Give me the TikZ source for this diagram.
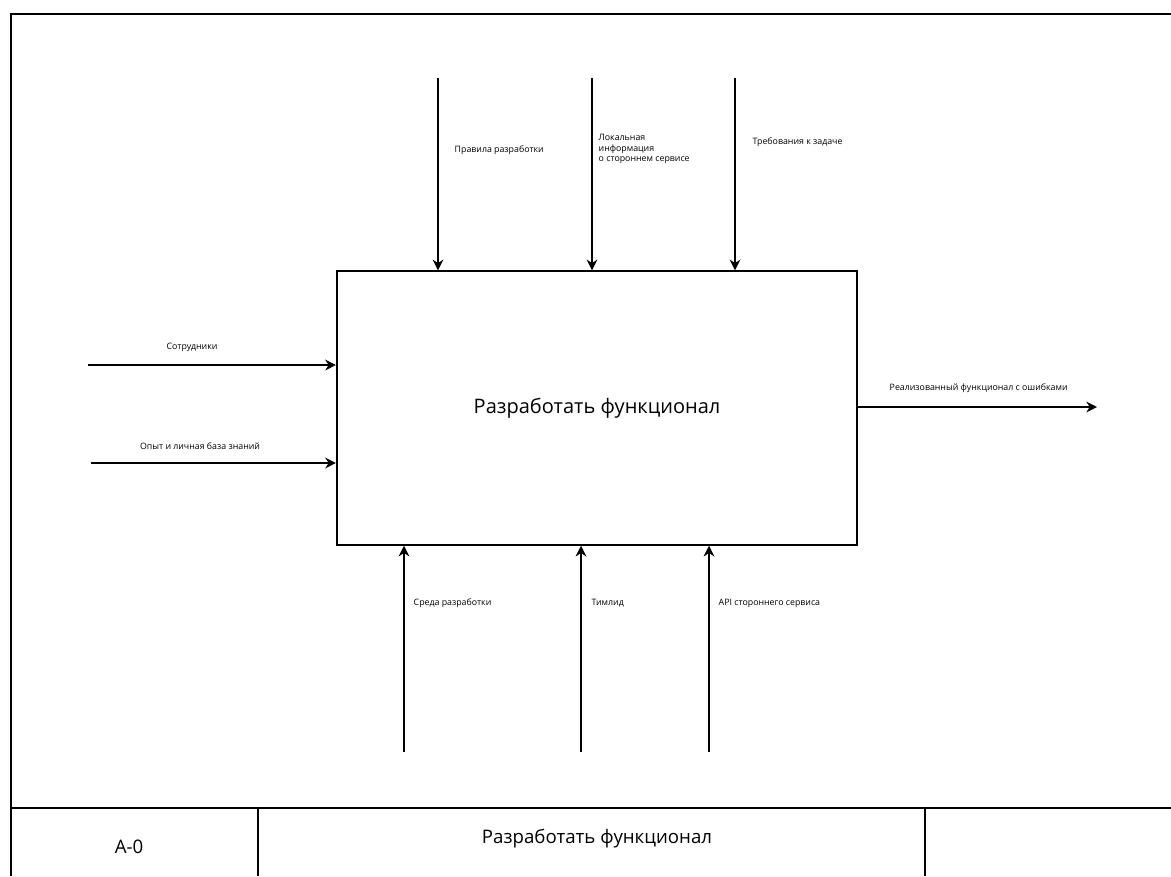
\documentclass[tikz,border=0pt]{standalone}
\usepackage{fontspec}
\setmainfont{Open Sans}
\usetikzlibrary{positioning,arrows.meta,calc}

\begin{document}
\begin{tikzpicture}[
    x=0.75pt,y=-0.75pt,
    funcbox/.style={draw,line width=1.6pt,minimum width=390pt,minimum height=205pt,inner sep=0pt,font=\fontsize{15}{18}\selectfont},
    flow/.style={-{Stealth[length=8pt,width=8pt]},line width=1.9pt},
    lbl/.style={font=\fontsize{6.6}{8}\selectfont,align=left,anchor=west},
    frame/.style={line width=1.3pt},
]
\useasboundingbox (0,0) rectangle (1171,876);

% Frame of the sheet and the title strip
\draw[frame] (1171,14) -- (11,14) -- (11,876);
\draw[frame] (11,808) -- (1171,808);
\draw[frame] (258,808) -- (258,876);
\draw[frame] (925,808) -- (925,876);
\node[font=\fontsize{14}{17}\selectfont] (nodeid) at (129,847) {A-0};
\node[font=\fontsize{14}{17}\selectfont] (title) at (597,839) {Разработать функционал};

% Function block
\node[funcbox] (func) at (597,408) {Разработать функционал};

% Free ends of the arrows
\coordinate (c1) at (438,78);
\coordinate (c2) at (592,78);
\coordinate (c3) at (735,78);
\coordinate (i1) at (88,365);
\coordinate (i2) at (91,463);
\coordinate (o1) at (1097,407);
\coordinate (m1) at (404,752);
\coordinate (m2) at (581,752);
\coordinate (m3) at (709,752);

% Controls (top)
\draw[flow] (c1) -- (c1 |- func.north);
\draw[flow] (c2) -- (c2 |- func.north);
\draw[flow] (c3) -- (c3 |- func.north);
\node[lbl] (c1lbl) at (450,150) {Правила разработки};
\node[lbl] (c2lbl) at (594,149) {Локальная\\информация\\о стороннем сервисе};
\node[lbl] (c3lbl) at (748,142) {Требования к задаче};

% Inputs (left)
\draw[flow] (i1) -- (i1 -| func.west);
\draw[flow] (i2) -- (i2 -| func.west);
\node[lbl,anchor=center] (i1lbl) at (192,347) {Сотрудники};
\node[lbl,anchor=center] (i2lbl) at (200,446) {Опыт и личная база знаний};

% Output (right)
\draw[flow] (func.east |- o1) -- (o1);
\node[lbl] (o1lbl) at (885,388) {Реализованный функционал с ошибками};

% Mechanisms (bottom)
\draw[flow] (m1) -- (m1 |- func.south);
\draw[flow] (m2) -- (m2 |- func.south);
\draw[flow] (m3) -- (m3 |- func.south);
\node[lbl] (m1lbl) at (409,603) {Среда разработки};
\node[lbl] (m2lbl) at (587,603) {Тимлид};
\node[lbl] (m3lbl) at (714,603) {API стороннего сервиса};
\end{tikzpicture}
\end{document}
